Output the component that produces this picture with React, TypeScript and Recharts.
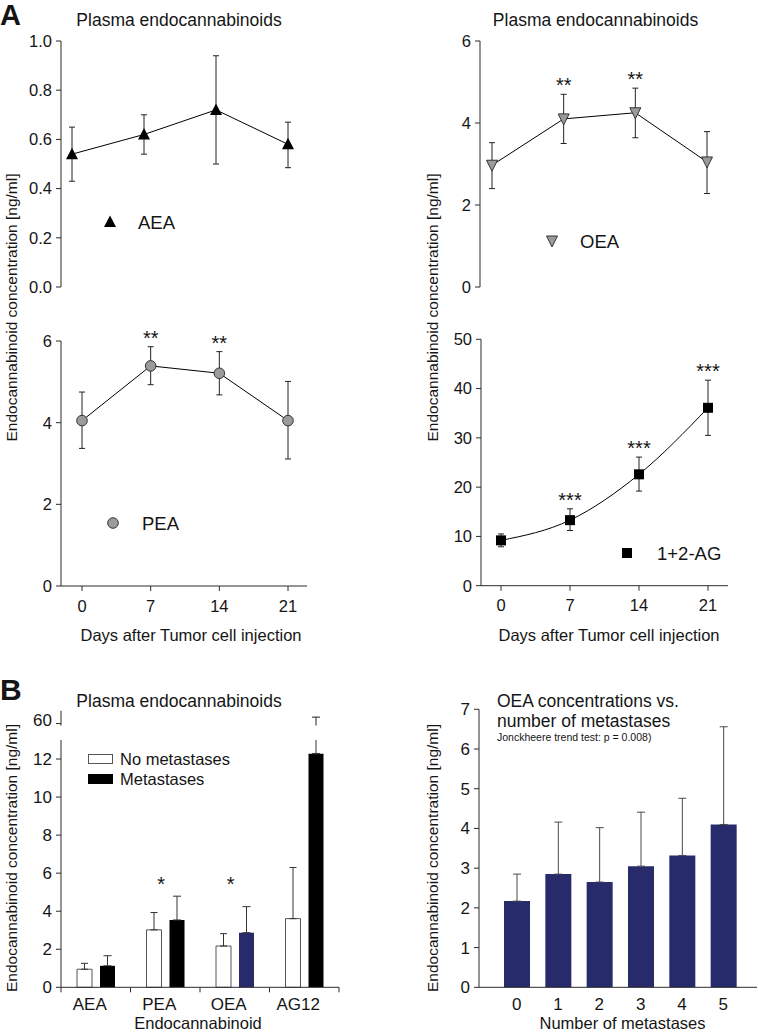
import {
  LineChart,
  Line,
  BarChart,
  Bar,
  Cell,
  XAxis,
  YAxis,
  ErrorBar,
  ReferenceDot,
  Legend,
} from "recharts";

const FONT = '"Liberation Sans", Arial, Helvetica, sans-serif';
const INK = "#151515";
const AXIS = "#2b2b2b";
const NAVY = "#272a6b";
const GREY = "#9b9b9b";

// Panel A: days after tumor cell injection
const days = [0, 7, 14, 21];

const aeaMean = [0.54, 0.62, 0.72, 0.58];
const aeaLow = [0.43, 0.54, 0.5, 0.485];
const aeaHigh = [0.65, 0.7, 0.94, 0.67];
const aeaStars = ["", "", "", ""];

const oeaMean = [2.97, 4.1, 4.25, 3.05];
const oeaLow = [2.4, 3.5, 3.64, 2.28];
const oeaHigh = [3.52, 4.7, 4.85, 3.79];
const oeaStars = ["", "**", "**", ""];

const peaMean = [4.05, 5.39, 5.21, 4.05];
const peaLow = [3.37, 4.93, 4.68, 3.11];
const peaHigh = [4.75, 5.86, 5.74, 5.01];
const peaStars = ["", "**", "**", ""];

const agMean = [9.2, 13.3, 22.6, 36.1];
const agLow = [7.9, 11.2, 19.2, 30.5];
const agHigh = [10.5, 15.6, 26.1, 41.7];
const agStars = ["", "***", "***", "***"];

// Panel B left: metastases vs none
const compounds = ["AEA", "PEA", "OEA", "AG12"];
const noMetMean = [0.95, 3.02, 2.17, 3.61];
const noMetHigh = [1.26, 3.93, 2.82, 6.3];
const metMean = [1.13, 3.54, 2.87, 12.28];
const metHigh = [1.66, 4.79, 4.24, 63];
const compoundStars = ["", "*", "*", ""];
const B_BREAK = 13; // lower segment of the broken axis ends here
const B_STAR_LEVEL = 5.05;

// Panel B right: OEA by number of metastases
const metCounts = ["0", "1", "2", "3", "4", "5"];
const oeaByCount = [2.17, 2.85, 2.65, 3.05, 3.32, 4.1];
const oeaByCountHigh = [2.85, 4.16, 4.02, 4.41, 4.76, 6.56];

const toSeries = (mean: number[], low: number[], high: number[], stars: string[]) =>
  days.map((day, i) => ({
    day,
    value: mean[i],
    err: [mean[i] - low[i], high[i] - mean[i]],
    top: high[i],
    stars: stars[i],
  }));

const aeaData = toSeries(aeaMean, aeaLow, aeaHigh, aeaStars);
const oeaData = toSeries(oeaMean, oeaLow, oeaHigh, oeaStars);
const peaData = toSeries(peaMean, peaLow, peaHigh, peaStars);
const agData = toSeries(agMean, agLow, agHigh, agStars);

const compoundRows = compounds.map((name, i) => ({
  name,
  noMet: noMetMean[i],
  noMetErr: [0, noMetHigh[i] - noMetMean[i]],
  met: metMean[i],
  metErr: [0, metHigh[i] <= B_BREAK ? metHigh[i] - metMean[i] : 0],
  metBreak: [0, metHigh[i] > B_BREAK ? B_BREAK - metMean[i] : 0],
  metTop: metHigh[i],
  stars: compoundStars[i],
}));

const countRows = metCounts.map((n, i) => ({
  n,
  value: oeaByCount[i],
  err: [0, oeaByCountHigh[i] - oeaByCount[i]],
}));

type Marker = (cx: number, cy: number) => JSX.Element;

const triUp: Marker = (cx, cy) => (
  <path d={`M${cx},${cy - 6.5} L${cx + 6},${cy + 5} L${cx - 6},${cy + 5}Z`} fill="#000" />
);
const triDown: Marker = (cx, cy) => (
  <path
    d={`M${cx - 5.5},${cy - 5} L${cx + 5.5},${cy - 5} L${cx},${cy + 6}Z`}
    fill={GREY}
    stroke="#333"
    strokeWidth={1}
  />
);
const dotCircle: Marker = (cx, cy) => (
  <circle cx={cx} cy={cy} r={5.3} fill={GREY} stroke="#333" strokeWidth={1} />
);
const dotSquare: Marker = (cx, cy) => (
  <rect x={cx - 5} y={cy - 5} width={10} height={10} fill="#000" />
);

const axisProps = {
  axisLine: { stroke: AXIS, strokeWidth: 1 },
  tickLine: { stroke: AXIS, strokeWidth: 1 },
  tickSize: 5,
};

interface TimePanelProps {
  left: number;
  top: number;
  width: number;
  height: number;
  data: ReturnType<typeof toSeries>;
  domain: [number, number];
  ticks: number[];
  fmt?: (v: number) => string;
  axisWidth: number;
  margin: { top: number; right: number; bottom: number; left: number };
  pad: { left: number; right: number };
  showX: boolean;
  curve: "linear" | "monotone";
  marker: Marker;
  name: string;
  legendAt: { left: number; top: number };
  textX: number;
}

function TimePanel(p: TimePanelProps) {
  return (
    <div style={{ position: "absolute", left: p.left, top: p.top }}>
      <LineChart width={p.width} height={p.height} data={p.data} margin={p.margin}>
        <XAxis
          type="number"
          dataKey="day"
          domain={[0, 21]}
          ticks={days}
          interval={0}
          hide={!p.showX}
          padding={p.pad}
          height={30}
          tickMargin={9}
          tick={{ fontSize: 16.5, fill: INK }}
          {...axisProps}
        />
        <YAxis
          domain={p.domain}
          ticks={p.ticks}
          interval={0}
          tickFormatter={p.fmt}
          width={p.axisWidth}
          tickMargin={4}
          tick={{ fontSize: 16.5, fill: INK }}
          {...axisProps}
        />
        <Line
          type={p.curve}
          dataKey="value"
          name={p.name}
          stroke="#000"
          strokeWidth={1}
          isAnimationActive={false}
          activeDot={false}
          dot={(d: any) => <g key={`d${d.index}`}>{p.marker(d.cx, d.cy)}</g>}
        >
          <ErrorBar dataKey="err" width={3} stroke="#222" strokeWidth={1} direction="y" />
        </Line>
        {p.data
          .filter((d) => d.stars)
          .map((d) => (
            <ReferenceDot
              key={d.day}
              x={d.day}
              y={d.top}
              r={0}
              shape={(s: any) => (
                <text x={s.cx} y={s.cy - 2} textAnchor="middle" fontSize={20} fill={INK}>
                  {d.stars}
                </text>
              )}
            />
          ))}
        <Legend
          layout="vertical"
          align="center"
          verticalAlign="middle"
          wrapperStyle={{ left: p.legendAt.left, top: p.legendAt.top, width: "auto" }}
          content={(lp: any) => (
            <svg width={130} height={24} style={{ display: "block", overflow: "visible" }}>
              {p.marker(12, 12)}
              <text x={p.textX} y={12} dy="0.36em" fontSize={18.5} fill={INK}>
                {lp.payload?.[0]?.value ?? p.name}
              </text>
            </svg>
          )}
        />
      </LineChart>
    </div>
  );
}

const BandTick = (t: any) => {
  const { x, y, payload } = t;
  const axisY = y - 11;
  const half = payload.offset ?? 0;
  const last = payload.index === compounds.length - 1;
  return (
    <g>
      <line x1={x - half} x2={x - half} y1={axisY} y2={axisY + 5} stroke={AXIS} />
      {last && <line x1={x + half} x2={x + half} y1={axisY} y2={axisY + 5} stroke={AXIS} />}
      <text x={x - 6} y={y} dy="0.71em" textAnchor="middle" fontSize={17} fill={INK}>
        {payload.value}
      </text>
    </g>
  );
};

const UpperWhisker = (s: any) => {
  if (!(s.payload.metTop > 59)) return <g />;
  const cx = s.x + s.width / 2;
  return (
    <g>
      <line x1={cx} x2={cx} y1={s.y + s.height} y2={s.y} stroke="#222" strokeWidth={1} />
      <line x1={cx - 4} x2={cx + 4} y1={s.y} y2={s.y} stroke="#222" strokeWidth={1} />
    </g>
  );
};

function CompoundPanel() {
  const margin = { top: 70, right: 41, bottom: 16.7, left: 0 };
  return (
    <>
      <div style={{ position: "absolute", left: 0, top: 670 }}>
        <BarChart width={380} height={364} data={compoundRows} margin={margin} barSize={15} barGap={8}>
          <XAxis
            dataKey="name"
            height={30}
            tickMargin={6}
            tickSize={5}
            tickLine={false}
            axisLine={{ stroke: AXIS }}
            tick={BandTick}
            interval={0}
          />
          <YAxis
            domain={[0, B_BREAK]}
            ticks={[0, 2, 4, 6, 8, 10, 12]}
            interval={0}
            width={61}
            tickMargin={4}
            tick={{ fontSize: 17, fill: INK }}
            {...axisProps}
          />
          <Bar dataKey="noMet" name="No metastases" fill="#fff" stroke="#555" strokeWidth={1} isAnimationActive={false}>
            <ErrorBar dataKey="noMetErr" width={3.5} stroke="#333" strokeWidth={1} direction="y" />
          </Bar>
          <Bar dataKey="met" name="Metastases" fill="#000" isAnimationActive={false}>
            {compoundRows.map((r) => (
              <Cell key={r.name} fill={r.name === "OEA" ? NAVY : "#000"} />
            ))}
            <ErrorBar dataKey="metErr" width={4} stroke="#333" strokeWidth={1} direction="y" />
            <ErrorBar dataKey="metBreak" width={0} stroke="#333" strokeWidth={1} direction="y" />
          </Bar>
          {compoundRows
            .filter((r) => r.stars)
            .map((r) => (
              <ReferenceDot
                key={r.name}
                x={r.name}
                y={B_STAR_LEVEL}
                r={0}
                shape={(s: any) => (
                  <text x={s.cx - 4} y={s.cy} textAnchor="middle" fontSize={20} fill={INK}>
                    {r.stars}
                  </text>
                )}
              />
            ))}
          <Legend
            layout="vertical"
            align="center"
            verticalAlign="middle"
            wrapperStyle={{ left: 88, top: 84, width: "auto" }}
            content={() => (
              <svg width={160} height={32} style={{ display: "block", overflow: "visible" }}>
                <rect x={0.5} y={0.5} width={24} height={9} fill="#fff" stroke="#555" />
                <text x={32} y={5} dy="0.36em" fontSize={16.5} fill={INK}>
                  No metastases
                </text>
                <rect x={0} y={20} width={25} height={10} fill="#000" />
                <text x={32} y={25} dy="0.36em" fontSize={16.5} fill={INK}>
                  Metastases
                </text>
              </svg>
            )}
          />
        </BarChart>
      </div>
      {/* upper piece of the broken axis, only the AG12 whisker reaches it */}
      <div style={{ position: "absolute", left: 0, top: 700 }}>
        <BarChart
          width={380}
          height={30}
          data={compoundRows}
          margin={{ top: 10.7, right: 41, bottom: 4.3, left: 0 }}
          barSize={15}
          barGap={8}
        >
          <XAxis dataKey="name" hide />
          <YAxis
            domain={[59, 66]}
            ticks={[60]}
            allowDataOverflow
            width={61}
            tickMargin={4}
            tick={{ fontSize: 17, fill: INK }}
            {...axisProps}
          />
          <Bar dataKey="noMet" shape={() => <g />} isAnimationActive={false} />
          <Bar dataKey="metTop" shape={UpperWhisker} isAnimationActive={false} />
        </BarChart>
      </div>
    </>
  );
}

function CountPanel() {
  return (
    <div style={{ position: "absolute", left: 380, top: 670 }}>
      <BarChart
        width={378}
        height={364}
        data={countRows}
        margin={{ top: 39.3, right: 1, bottom: 16.7, left: 0 }}
        barSize={26}
      >
        <XAxis
          dataKey="n"
          padding={{ left: 17, right: 13 }}
          height={30}
          tickLine={false}
          tickSize={5}
          tickMargin={6}
          axisLine={{ stroke: AXIS }}
          tick={{ fontSize: 17, fill: INK }}
          interval={0}
        />
        <YAxis
          domain={[0, 7]}
          ticks={[0, 1, 2, 3, 4, 5, 6, 7]}
          interval={0}
          width={99}
          tickMargin={4}
          tick={{ fontSize: 17, fill: INK }}
          {...axisProps}
        />
        <Bar dataKey="value" fill={NAVY} isAnimationActive={false}>
          <ErrorBar dataKey="err" width={4} stroke="#4a4a4a" strokeWidth={1} direction="y" />
        </Bar>
      </BarChart>
    </div>
  );
}

const yLabel = "Endocannabinoid concentration [ng/ml]";

function Texts() {
  const t = { fill: INK, fontFamily: FONT } as const;
  return (
    <svg
      width={758}
      height={1034}
      style={{ position: "absolute", left: 0, top: 0, pointerEvents: "none" }}
    >
      <text x={0} y={25} fontSize={29} fontWeight="bold" {...t}>A</text>
      <text x={0} y={700} fontSize={30} fontWeight="bold" {...t}>B</text>

      <text x={179} y={26} fontSize={17.5} textAnchor="middle" {...t}>Plasma endocannabinoids</text>
      <text x={595.5} y={26} fontSize={17.5} textAnchor="middle" {...t}>Plasma endocannabinoids</text>
      <text x={179} y={706.5} fontSize={17.5} textAnchor="middle" {...t}>Plasma endocannabinoids</text>

      <text x={497} y={707.3} fontSize={17.5} {...t}>OEA concentrations vs.</text>
      <text x={497} y={726.5} fontSize={17.5} {...t}>number of metastases</text>
      <text x={497} y={740.5} fontSize={10.5} {...t}>Jonckheere trend test: p = 0.008)</text>

      <text x={191} y={641} fontSize={16.5} textAnchor="middle" {...t}>Days after Tumor cell injection</text>
      <text x={609} y={641} fontSize={16.5} textAnchor="middle" {...t}>Days after Tumor cell injection</text>
      <text x={198} y={1029} fontSize={16.5} textAnchor="middle" {...t}>Endocannabinoid</text>
      <text x={622.5} y={1029} fontSize={16.5} textAnchor="middle" {...t}>Number of metastases</text>

      <text x={17} y={307.5} fontSize={15.5} textAnchor="middle" transform="rotate(-90 17 307.5)" {...t}>{yLabel}</text>
      <text x={438} y={307.5} fontSize={15.5} textAnchor="middle" transform="rotate(-90 438 307.5)" {...t}>{yLabel}</text>
      <text x={17} y={858} fontSize={15.5} textAnchor="middle" transform="rotate(-90 17 858)" {...t}>{yLabel}</text>
      <text x={438} y={858} fontSize={15.5} textAnchor="middle" transform="rotate(-90 438 858)" {...t}>{yLabel}</text>
    </svg>
  );
}

export default function App() {
  return (
    <div
      style={{
        position: "absolute",
        left: 0,
        top: 0,
        width: 758,
        height: 1034,
        background: "#fff",
        overflow: "hidden",
        fontFamily: FONT,
      }}
    >
      <TimePanel
        left={0}
        top={0}
        width={380}
        height={300}
        data={aeaData}
        domain={[0, 1]}
        ticks={[0, 0.2, 0.4, 0.6, 0.8, 1]}
        fmt={(v) => v.toFixed(1)}
        axisWidth={61}
        margin={{ top: 41, right: 73, bottom: 13, left: 0 }}
        pad={{ left: 11, right: 19 }}
        showX={false}
        curve="linear"
        marker={triUp}
        name="AEA"
        legendAt={{ left: 98, top: 210 }}
        textX={40}
      />
      <TimePanel
        left={380}
        top={0}
        width={378}
        height={300}
        data={oeaData}
        domain={[0, 6]}
        ticks={[0, 2, 4, 6]}
        axisWidth={100}
        margin={{ top: 41, right: 30, bottom: 13, left: 0 }}
        pad={{ left: 12, right: 21 }}
        showX={false}
        curve="linear"
        marker={triDown}
        name="OEA"
        legendAt={{ left: 160, top: 229 }}
        textX={40}
      />
      <TimePanel
        left={0}
        top={300}
        width={380}
        height={360}
        data={peaData}
        domain={[0, 6]}
        ticks={[0, 2, 4, 6]}
        axisWidth={61}
        margin={{ top: 41, right: 73, bottom: 44, left: 0 }}
        pad={{ left: 21, right: 19 }}
        showX
        curve="linear"
        marker={dotCircle}
        name="PEA"
        legendAt={{ left: 101, top: 211 }}
        textX={41}
      />
      <TimePanel
        left={380}
        top={300}
        width={378}
        height={360}
        data={agData}
        domain={[0, 50]}
        ticks={[0, 10, 20, 30, 40, 50]}
        axisWidth={101}
        margin={{ top: 39.3, right: 30, bottom: 44.3, left: 0 }}
        pad={{ left: 20, right: 20 }}
        showX
        curve="monotone"
        marker={dotSquare}
        name="1+2-AG"
        legendAt={{ left: 234.7, top: 241.3 }}
        textX={42}
      />
      <CompoundPanel />
      <CountPanel />
      <Texts />
    </div>
  );
}
